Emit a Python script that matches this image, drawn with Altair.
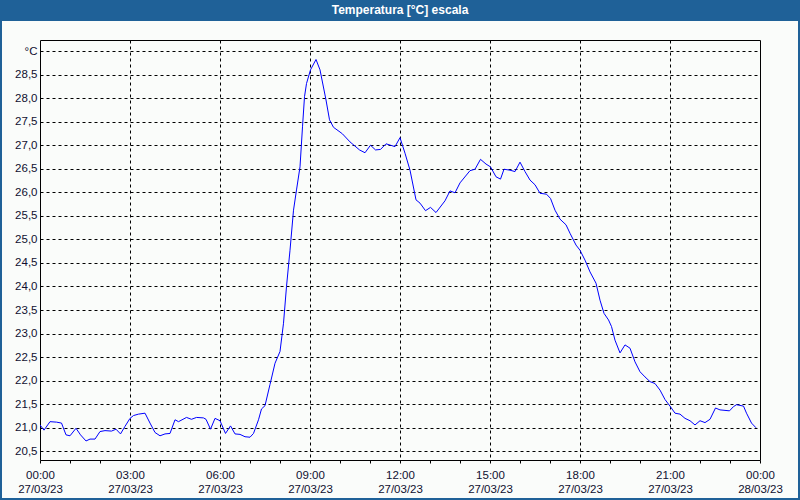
import altair as alt
import pandas as pd

# minutes after 27/03/23 00:00
minutes = [0, 8, 20, 33, 43, 52, 60, 72, 81, 92, 100, 110, 120, 130, 143, 152, 161, 170, 180, 187,
           197, 210, 220, 230, 240, 250, 260, 270, 277, 293, 303, 313, 327, 332, 341, 350, 360, 371,
           381, 390, 400, 410, 420, 427, 437, 443, 450, 460, 470, 480, 487, 493, 500, 507, 513, 520,
           525, 529, 533, 541, 552, 560, 572, 579, 587, 600, 605, 620, 639, 650, 661, 671, 681, 692,
           701, 710, 720, 730, 740, 752, 760, 771, 781, 792, 810, 820, 830, 840, 860, 870, 881, 892,
           901, 912, 921, 928, 940, 950, 960, 970, 980, 990, 1000, 1013, 1021, 1030, 1040, 1052,
           1060, 1072, 1080, 1090, 1100, 1112, 1120, 1128, 1137, 1143, 1150, 1160, 1170, 1180, 1190,
           1200, 1210, 1220, 1230, 1240, 1250, 1260, 1270, 1280, 1290, 1300, 1310, 1320, 1330, 1340,
           1351, 1360, 1379, 1387, 1393, 1407, 1413, 1423, 1432]
temps = [21.06, 20.95, 21.13, 21.12, 21.10, 20.85, 20.83, 20.99, 20.85, 20.72, 20.76, 20.76, 20.92,
         20.94, 20.93, 20.97, 20.87, 21.03, 21.20, 21.26, 21.29, 21.31, 21.10, 20.90, 20.83, 20.87,
         20.88, 21.17, 21.13, 21.22, 21.18, 21.22, 21.21, 21.18, 20.97, 21.20, 21.15, 20.88, 21.04,
         20.87, 20.86, 20.81, 20.80, 20.88, 21.17, 21.40, 21.47, 21.92, 22.37, 22.62, 23.22, 24.00,
         24.77, 25.62, 26.05, 26.54, 27.39, 28.03, 28.31, 28.60, 28.82, 28.60, 27.96, 27.54, 27.38,
         27.28, 27.24, 27.07, 26.90, 26.84, 27.00, 26.90, 26.91, 27.03, 27.00, 26.97, 27.16, 26.83,
         26.47, 25.84, 25.77, 25.61, 25.68, 25.57, 25.82, 26.03, 25.99, 26.20, 26.46, 26.49, 26.70,
         26.60, 26.54, 26.33, 26.28, 26.49, 26.47, 26.44, 26.64, 26.44, 26.26, 26.16, 25.98, 25.96,
         25.87, 25.62, 25.43, 25.31, 25.13, 24.88, 24.77, 24.56, 24.31, 24.07, 23.71, 23.43, 23.29,
         23.15, 22.86, 22.59, 22.76, 22.69, 22.40, 22.19, 22.08, 21.98, 21.94, 21.80, 21.60, 21.46,
         21.31, 21.29, 21.20, 21.15, 21.06, 21.15, 21.11, 21.18, 21.42, 21.38, 21.36, 21.45, 21.49,
         21.46, 21.31, 21.10, 21.00]

time_labels = ["00:00", "03:00", "06:00", "09:00", "12:00", "15:00", "18:00", "21:00", "00:00"]
date_labels = ["27/03/23"] * 8 + ["28/03/23"]
y_ticks = [20.5, 21.0, 21.5, 22.0, 22.5, 23.0, 23.5, 24.0, 24.5, 25.0, 25.5, 26.0,
           26.5, 27.0, 27.5, 28.0, 28.5, 29.0]
title_text = "Temperatura [°C] escala"
unit_label = "°C"

df = pd.DataFrame({"t": minutes, "v": temps})

FONT = "Liberation Sans"
TXT = "#101030"
label_arr = "[" + ",".join(f"['{a}','{b}']" for a, b in zip(time_labels, date_labels)) + "]"
x_label_expr = f"datum.value % 180 == 0 ? {label_arr}[datum.value / 180] : ''"
y_label_expr = f"datum.value >= 29 ? '{unit_label}' : replace(format(datum.value, '.1f'), '.', ',')"

line = alt.Chart(df).mark_line(color="#0000ff", strokeWidth=1, clip=True).encode(
    x=alt.X("t:Q", scale=alt.Scale(domain=[0, 1440], nice=False, zero=False),
            axis=alt.Axis(values=list(range(0, 1441, 60)), labelExpr=x_label_expr, title=None,
                          domain=False, tickSize=3, tickColor="#000000",
                          grid=True, gridColor="#000000", gridDash=[3, 3], gridWidth=1,
                          gridOpacity={"condition": {"test": "datum.value % 180 == 0 && datum.value > 0 && datum.value < 1440", "value": 1}, "value": 0},
                          labelFont=FONT, labelFontSize=11.5, labelColor=TXT,
                          labelBaseline="top", labelPadding=6, labelLineHeight=14,
                          labelAlign="center", labelOverlap=False, labelFlush=False)),
    y=alt.Y("v:Q", scale=alt.Scale(domain=[20.316, 29.234], nice=False, zero=False),
            axis=alt.Axis(values=y_ticks, labelExpr=y_label_expr, title=None, domain=False,
                          ticks=False, labelPadding=3, grid=True, gridColor="#000000",
                          gridDash=[3, 3], gridWidth=1, labelFont=FONT, labelFontSize=11.5,
                          labelColor=TXT, labelOverlap=False))
)

one = pd.DataFrame({"a": [0]})
band = alt.Chart(one).mark_rect(color="#1f6198", clip=False).encode(
    x=alt.value(-40), x2=alt.value(760), y=alt.value(-40), y2=alt.value(-19))
border = alt.Chart(one).mark_rect(fill=None, stroke="#1f6198", strokeWidth=2, clip=False).encode(
    x=alt.value(-39), x2=alt.value(759), y=alt.value(-40), y2=alt.value(459))
title = alt.Chart(one).mark_text(text=title_text, color="#ffffff", font=FONT, fontSize=12,
                                 fontWeight="bold", align="center", baseline="middle").encode(
    x=alt.value(360), y=alt.value(-30))

chart = alt.layer(band, border, line, title).properties(
    width=720, height=420, autosize=alt.AutoSizeParams(type="none"),
    padding={"left": 40, "top": 40, "right": 40, "bottom": 40},
    background="#fafcfa"
).configure_view(stroke="#000000", strokeWidth=1)

chart.save("out.html", embed_options={"renderer": "svg", "actions": False})
